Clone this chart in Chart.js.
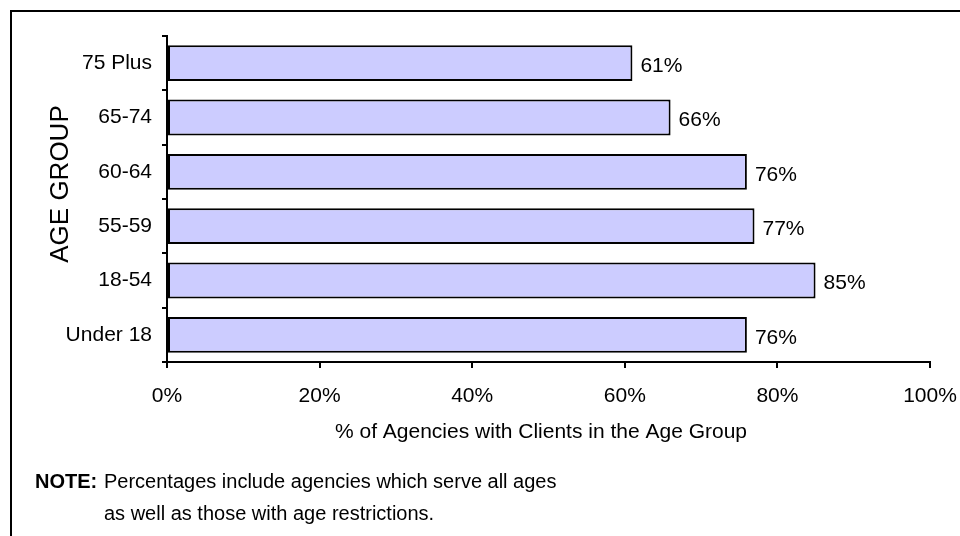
<!DOCTYPE html>
<html>
<head>
<meta charset="utf-8">
<script src="https://cdn.jsdelivr.net/npm/chart.js@4/dist/chart.umd.min.js"></script>
<style>
    body { margin: 0; background: #fff; }
    #wrap { position: relative; width: 960px; height: 536px; }
    #frame {
        position: absolute; left: 10px; top: 10px; width: 950px; height: 526px;
        border-left: 2px solid #000; border-top: 2px solid #000;
    }
    #ageChart { position: absolute; left: 0; top: 0; }
</style>
</head>
<body>
<div id="wrap">
    <div id="frame"></div>
    <canvas id="ageChart" width="960" height="536"></canvas>
</div>
<script>
const ageGroups = ["75 Plus", "65-74", "60-64", "55-59", "18-54", "Under 18"];
const agencyPct = [61, 66, 76, 77, 85, 76];
const pctTicks = [0, 20, 40, 60, 80, 100];

const FONT = "'Liberation Sans', Arial, sans-serif";

// value labels at the end of each bar, plus titles and the note
const extraText = {
    id: "extraText",
    afterDatasetsDraw(chart) {
        const ctx = chart.ctx;
        ctx.save();
        ctx.fillStyle = "#000";
        ctx.font = "21px " + FONT;
        ctx.textBaseline = "middle";
        ctx.textAlign = "left";
        chart.getDatasetMeta(0).data.forEach((bar, i) => {
            ctx.fillText(agencyPct[i] + "%", bar.x + 8, bar.y + 3);
        });

        // x axis title
        ctx.textAlign = "center";
        ctx.fillText("% of Agencies with Clients in the Age Group", 541, 432);

        // y axis title
        ctx.save();
        ctx.translate(61, 184);
        ctx.rotate(-Math.PI / 2);
        ctx.font = "26px " + FONT;
        ctx.fillText("AGE GROUP", 0, 0);
        ctx.restore();

        // note
        ctx.textAlign = "left";
        ctx.font = "bold 20px " + FONT;
        ctx.fillText("NOTE:", 35, 482);
        ctx.font = "20px " + FONT;
        ctx.fillText("Percentages include agencies which serve all ages", 104, 482);
        ctx.fillText("as well as those with age restrictions.", 104, 514);
        ctx.restore();
    }
};

new Chart(document.getElementById("ageChart"), {
    type: "bar",
    data: {
        labels: ageGroups,
        datasets: [{
            data: agencyPct,
            backgroundColor: "#CCCCFF",
            borderColor: "#000",
            borderWidth: 2,
            borderSkipped: false,
            categoryPercentage: 0.66,
            barPercentage: 1
        }]
    },
    options: {
        indexAxis: "y",
        responsive: false,
        animation: false,
        layout: { padding: { top: 36, right: 30, left: 0, bottom: 0 } },
        plugins: {
            legend: { display: false },
            tooltip: { enabled: false }
        },
        scales: {
            x: {
                min: 0,
                max: 100,
                afterBuildTicks: (scale) => {
                    scale.ticks = pctTicks.map(v => ({ value: v }));
                },
                afterFit: (scale) => {
                    scale.height = 174;
                    // let the 100% label run into the right margin
                    scale.paddingLeft = 0;
                    scale.paddingRight = 0;
                },
                ticks: {
                    color: "#000",
                    font: { family: FONT, size: 21 },
                    padding: 16,
                    maxRotation: 0,
                    callback: (v) => v + "%"
                },
                grid: {
                    drawOnChartArea: false,
                    drawTicks: true,
                    tickLength: 6,
                    color: "#000",
                    lineWidth: 2
                },
                border: { display: true, color: "#000", width: 2 }
            },
            y: {
                afterFit: (scale) => { scale.width = 167; },
                ticks: {
                    color: "#000",
                    font: { family: FONT, size: 21 },
                    padding: 10
                },
                grid: {
                    offset: true,
                    drawOnChartArea: false,
                    drawTicks: true,
                    tickLength: 5,
                    color: "#000",
                    lineWidth: 2
                },
                border: { display: true, color: "#000", width: 2 }
            }
        }
    },
    plugins: [extraText]
});
</script>
</body>
</html>
